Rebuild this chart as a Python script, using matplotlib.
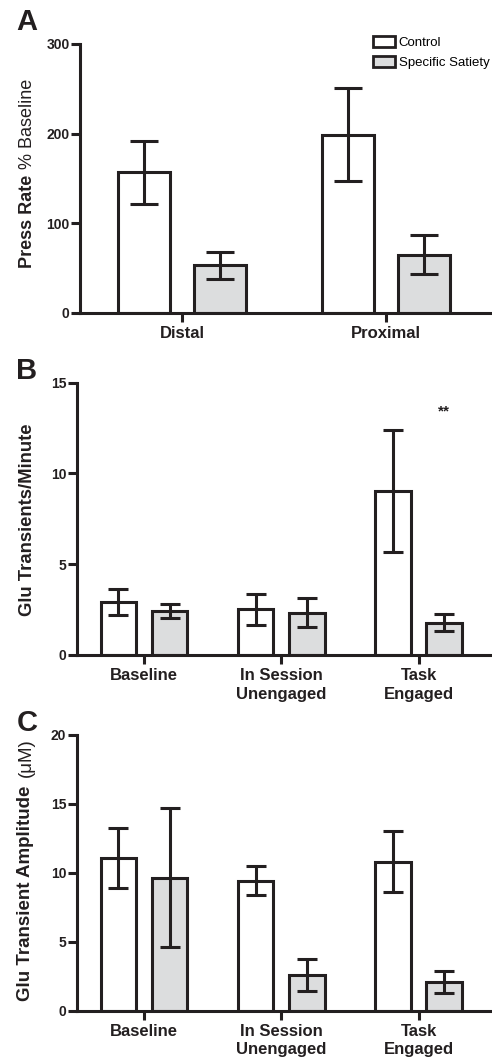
import matplotlib
matplotlib.use("Agg")
import matplotlib.pyplot as plt
import numpy as np
from matplotlib.patches import Patch

plt.rcParams["font.family"] = ["Liberation Sans", "DejaVu Sans"]

# panel A
groups_a = ["Distal", "Proximal"]
ctrl_a = [157, 199]
ctrl_a_err = [35, 52]
sat_a = [53, 65]
sat_a_err = [15, 22]

# panel B
groups_bc = ["Baseline", "In Session\nUnengaged", "Task\nEngaged"]
ctrl_b = [2.94, 2.52, 9.03]
ctrl_b_err = [0.72, 0.85, 3.35]
sat_b = [2.42, 2.33, 1.78]
sat_b_err = [0.38, 0.80, 0.46]

# panel C
ctrl_c = [11.1, 9.43, 10.8]
ctrl_c_err = [2.18, 1.05, 2.2]
sat_c = [9.65, 2.59, 2.07]
sat_c_err = [5.05, 1.16, 0.8]

INK = "#231f20"
GRAY = "#dcddde"
LW = 2.2

fig = plt.figure(figsize=(4.92, 10.63), dpi=100)


def panel(rect, groups, ctrl, ctrl_err, sat, sat_err, ymax, step, xlim, cap, off=0.186, w=0.258):
    ax = fig.add_axes(rect)
    x = np.arange(len(groups))
    ax.bar(x - off, ctrl, w, color="white", edgecolor=INK, linewidth=LW, zorder=2)
    ax.bar(x + off, sat, w, color=GRAY, edgecolor=INK, linewidth=LW, zorder=2)
    ax.errorbar(x - off, ctrl, yerr=ctrl_err, fmt="none", ecolor=INK,
                elinewidth=LW, capsize=cap, capthick=LW, zorder=3, clip_on=False)
    ax.errorbar(x + off, sat, yerr=sat_err, fmt="none", ecolor=INK,
                elinewidth=LW, capsize=cap, capthick=LW, zorder=3, clip_on=False)
    ax.set_xlim(*xlim)
    ax.set_ylim(0, ymax)
    ax.set_yticks(np.arange(0, ymax + 1, step))
    ax.set_xticks(x)
    ax.set_xticklabels(groups, fontsize=12, fontweight="bold", color=INK, linespacing=1.3)
    for lab in ax.get_yticklabels():
        lab.set_fontsize(10)
        lab.set_fontweight("bold")
        lab.set_color(INK)
    ax.spines[["top", "right"]].set_visible(False)
    for s in ("left", "bottom"):
        ax.spines[s].set_linewidth(LW)
        ax.spines[s].set_color(INK)
    ax.tick_params(axis="both", length=6.5, width=LW, color=INK, pad=1)
    ax.tick_params(axis="x", pad=3)
    ax.patch.set_alpha(0)
    return ax


ax_a = panel([80 / 492, 1 - 313 / 1063, 410 / 492, 269 / 1063],
             groups_a, ctrl_a, ctrl_a_err, sat_a, sat_a_err, 300, 100, (-0.5, 1.51), 10)
ax_b = panel([76.7 / 492, 1 - 655 / 1063, 413.3 / 492, 272.3 / 1063],
             groups_bc, ctrl_b, ctrl_b_err, sat_b, sat_b_err, 15, 5, (-0.49, 2.52), 7.2)
ax_c = panel([76.7 / 492, 1 - 1010.7 / 1063, 413.3 / 492, 275.7 / 1063],
             groups_bc, ctrl_c, ctrl_c_err, sat_c, sat_c_err, 20, 5, (-0.49, 2.52), 7.0)

ax_b.text(2 + 0.186, 13.4, "**", ha="center", va="center", fontsize=11,
          fontweight="bold", color=INK)

# y labels (bold part + regular part where the original mixes weights)
fig.text(28 / 492, 1 - 221 / 1063, "Press Rate", rotation=90, ha="center", va="center",
         fontsize=13, fontweight="bold", color=INK)
fig.text(28 / 492, 1 - 124 / 1063, "% Baseline", rotation=90, ha="center", va="center",
         fontsize=13, color=INK)
fig.text(27.5 / 492, 1 - 520 / 1063, "Glu Transients/Minute", rotation=90, ha="center",
         va="center", fontsize=13.3, fontweight="bold", color=INK)
fig.text(26 / 492, 1 - 893 / 1063, "Glu Transient Amplitude", rotation=90,
         ha="center", va="center", fontsize=13.5, fontweight="bold", color=INK)
fig.text(26 / 492, 1 - 758 / 1063, "(\u03bcM)", rotation=90,
         ha="center", va="center", fontsize=13.5, color=INK)

# panel letters
for letter, ypx in (("A", 22), ("B", 371), ("C", 723)):
    fig.text(27 / 492, 1 - ypx / 1063, letter, ha="center", va="center",
             fontsize=21, fontweight="bold", color=INK)

handles = [Patch(facecolor="white", edgecolor=INK, linewidth=2),
           Patch(facecolor=GRAY, edgecolor=INK, linewidth=2)]
fig.legend(handles, ["Control", "Specific Satiety"], loc="upper left",
           bbox_to_anchor=(373 / 492, 1 - 36 / 1063), frameon=False, fontsize=9.5,
           handlelength=1.7, handleheight=0.9, handletextpad=0.25, labelspacing=0.55,
           borderpad=0, borderaxespad=0)

fig.savefig("out.png", dpi=100)
